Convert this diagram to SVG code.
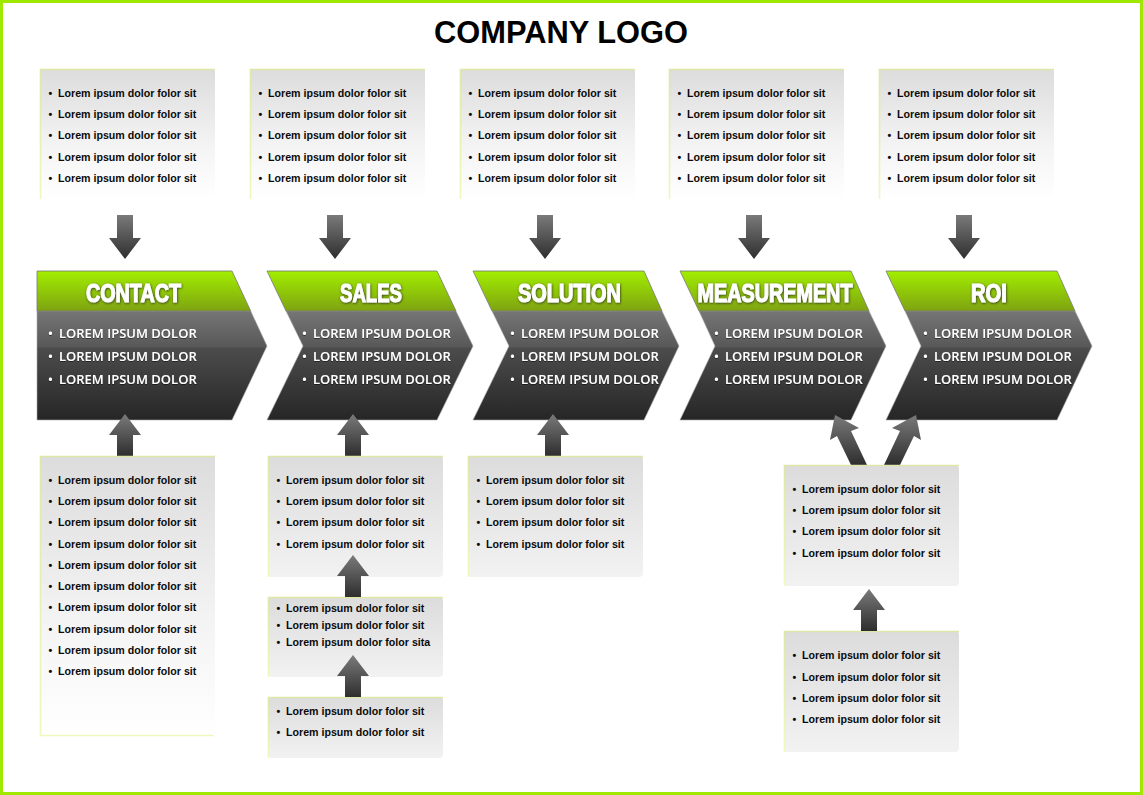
<svg xmlns="http://www.w3.org/2000/svg" width="1143" height="795" viewBox="0 0 1143 795">
<style>
.t{font:bold 10.650px "Liberation Sans",Arial,sans-serif;fill:#0a0a0a}
.c{font:13px "Open Sans","DejaVu Sans",sans-serif;font-weight:600;fill:#fff;filter:url(#ts)}
.h{font:bold 25px "Liberation Sans",Arial,sans-serif;fill:#fff;stroke:#fff;stroke-width:1.1;text-anchor:middle;filter:url(#hs)}
.ti{font:bold 30.800px "Liberation Sans",Arial,sans-serif;fill:#000;text-anchor:middle}
.body{fill:url(#dk);stroke:#aaa;stroke-width:.6}
.band{fill:url(#gr);stroke:#777;stroke-width:.8}
.p1{fill:url(#pw)}
.p2{fill:url(#pg)}
.edge{fill:none;stroke:url(#ed);stroke-width:1.6}
.arw{fill:url(#ar)}
</style>
<defs>
<linearGradient id="dk" x1="0" y1="0" x2="0" y2="1"><stop offset="0" stop-color="#767676"/><stop offset=".33" stop-color="#585858"/><stop offset=".34" stop-color="#4c4c4c"/><stop offset="1" stop-color="#262626"/></linearGradient>
<linearGradient id="gr" x1="0" y1="0" x2="0" y2="1"><stop offset="0" stop-color="#a2ee00"/><stop offset="1" stop-color="#7ea312"/></linearGradient>
<linearGradient id="pw" x1="0" y1="0" x2="0" y2="1"><stop offset="0" stop-color="#dcdcdc"/><stop offset=".6" stop-color="#f4f4f4"/><stop offset="1" stop-color="#fff"/></linearGradient>
<linearGradient id="pg" x1="0" y1="0" x2="0" y2="1"><stop offset="0" stop-color="#dcdcdc"/><stop offset="1" stop-color="#f2f2f2"/></linearGradient>
<linearGradient id="ed" x1="0" y1="0" x2="0" y2="1"><stop offset="0" stop-color="#dfe6a8"/><stop offset="1" stop-color="#f0f8c0"/></linearGradient>
<linearGradient id="ar" x1="0" y1="0" x2="0" y2="1"><stop offset="0" stop-color="#7a7a7a"/><stop offset="1" stop-color="#2e2e2e"/></linearGradient>
<filter id="ts" x="-5%" y="-30%" width="110%" height="160%"><feDropShadow dx="0" dy="0.6" stdDeviation="0.5" flood-color="#000" flood-opacity=".8"/></filter>
<filter id="hs" x="-10%" y="-20%" width="120%" height="140%"><feDropShadow dx="0.5" dy="0.8" stdDeviation="1" flood-color="#222" flood-opacity=".9"/></filter>
</defs>
<rect width="1143" height="795" fill="#fff"/>
<rect x="1.500" y="1.500" width="1140" height="792" fill="none" stroke="#9fe800" stroke-width="3"/>
<text class="ti" x="561" y="43">COMPANY LOGO</text>

<g id="chevron-contact"><path class="body" d="M37 311H250.700L267 346 232 420H37z"/><path class="band" d="M37 271H232L250.700 311H37z"/><text class="h" x="133.500" y="301.500" textLength="95" lengthAdjust="spacingAndGlyphs">CONTACT</text>
<text class="c" y="337.500"><tspan x="48">•</tspan><tspan x="59">LOREM IPSUM DOLOR</tspan></text><text class="c" y="360.500"><tspan x="48">•</tspan><tspan x="59">LOREM IPSUM DOLOR</tspan></text><text class="c" y="383.500"><tspan x="48">•</tspan><tspan x="59">LOREM IPSUM DOLOR</tspan></text></g>
<g id="chevron-sales"><path class="body" d="M286 311H456L473 346 437 420H267L303 346z"/><path class="band" d="M267 271H437L456 311H286z"/><text class="h" x="371" y="301.500" textLength="62" lengthAdjust="spacingAndGlyphs">SALES</text>
<text class="c" y="337.500"><tspan x="302">•</tspan><tspan x="313">LOREM IPSUM DOLOR</tspan></text><text class="c" y="360.500"><tspan x="302">•</tspan><tspan x="313">LOREM IPSUM DOLOR</tspan></text><text class="c" y="383.500"><tspan x="302">•</tspan><tspan x="313">LOREM IPSUM DOLOR</tspan></text></g>
<g id="chevron-solution"><path class="body" d="M492 311H662L679 346 644 420H473L509 346z"/><path class="band" d="M473 271H644L662 311H492z"/><text class="h" x="569.500" y="301.500" textLength="103" lengthAdjust="spacingAndGlyphs">SOLUTION</text>
<text class="c" y="337.500"><tspan x="510">•</tspan><tspan x="521">LOREM IPSUM DOLOR</tspan></text><text class="c" y="360.500"><tspan x="510">•</tspan><tspan x="521">LOREM IPSUM DOLOR</tspan></text><text class="c" y="383.500"><tspan x="510">•</tspan><tspan x="521">LOREM IPSUM DOLOR</tspan></text></g>
<g id="chevron-measurement"><path class="body" d="M699 311H869L886 346 851 420H680L715 346z"/><path class="band" d="M680 271H851L869 311H699z"/><text class="h" x="775" y="301.500" textLength="155" lengthAdjust="spacingAndGlyphs">MEASUREMENT</text>
<text class="c" y="337.500"><tspan x="714">•</tspan><tspan x="725">LOREM IPSUM DOLOR</tspan></text><text class="c" y="360.500"><tspan x="714">•</tspan><tspan x="725">LOREM IPSUM DOLOR</tspan></text><text class="c" y="383.500"><tspan x="714">•</tspan><tspan x="725">LOREM IPSUM DOLOR</tspan></text></g>
<g id="chevron-roi"><path class="body" d="M905 311H1075L1092 346 1057 420H886L921 346z"/><path class="band" d="M886 271H1057L1075 311H905z"/><text class="h" x="989" y="301.500" textLength="36" lengthAdjust="spacingAndGlyphs">ROI</text>
<text class="c" y="337.500"><tspan x="923">•</tspan><tspan x="934">LOREM IPSUM DOLOR</tspan></text><text class="c" y="360.500"><tspan x="923">•</tspan><tspan x="934">LOREM IPSUM DOLOR</tspan></text><text class="c" y="383.500"><tspan x="923">•</tspan><tspan x="934">LOREM IPSUM DOLOR</tspan></text></g>

<g id="connectors">
<path class="arw" d="M117 215h16v23h8l-16 21-16-21h8z"/>
<path class="arw" d="M327 215h16v23h8l-16 21-16-21h8z"/>
<path class="arw" d="M537 215h16v23h8l-16 21-16-21h8z"/>
<path class="arw" d="M746 215h16v23h8l-16 21-16-21h8z"/>
<path class="arw" d="M956 215h16v23h8l-16 21-16-21h8z"/>
<path class="arw" d="M117 456v-21h-8l16-21 16 21h-8v21z"/>
<path class="arw" d="M345 456v-21h-8l16-21 16 21h-8v21z"/>
<path class="arw" d="M545 456v-21h-8l16-21 16 21h-8v21z"/>
<path class="arw" d="M851 465L837 436 830 440 835 415 859 428 851 431 867 465z"/>
<path class="arw" d="M900 465L914 436 921 440 916 415 892 428 900 431 884 465z"/>
</g>

<g id="top-1"><rect class="p1" x="40" y="69" width="175" height="130" rx="2"/><path class="edge" d="M40.500 199V69.500H215"/><text class="t" y="97"><tspan x="48.500">•</tspan><tspan x="58">Lorem ipsum dolor folor sit</tspan></text><text class="t" y="118"><tspan x="48.500">•</tspan><tspan x="58">Lorem ipsum dolor folor sit</tspan></text><text class="t" y="139"><tspan x="48.500">•</tspan><tspan x="58">Lorem ipsum dolor folor sit</tspan></text><text class="t" y="161"><tspan x="48.500">•</tspan><tspan x="58">Lorem ipsum dolor folor sit</tspan></text><text class="t" y="182"><tspan x="48.500">•</tspan><tspan x="58">Lorem ipsum dolor folor sit</tspan></text></g>
<g id="top-2"><rect class="p1" x="250" y="69" width="175" height="130" rx="2"/><path class="edge" d="M250.500 199V69.500H425"/><text class="t" y="97"><tspan x="258.500">•</tspan><tspan x="268">Lorem ipsum dolor folor sit</tspan></text><text class="t" y="118"><tspan x="258.500">•</tspan><tspan x="268">Lorem ipsum dolor folor sit</tspan></text><text class="t" y="139"><tspan x="258.500">•</tspan><tspan x="268">Lorem ipsum dolor folor sit</tspan></text><text class="t" y="161"><tspan x="258.500">•</tspan><tspan x="268">Lorem ipsum dolor folor sit</tspan></text><text class="t" y="182"><tspan x="258.500">•</tspan><tspan x="268">Lorem ipsum dolor folor sit</tspan></text></g>
<g id="top-3"><rect class="p1" x="460" y="69" width="175" height="130" rx="2"/><path class="edge" d="M460.500 199V69.500H635"/><text class="t" y="97"><tspan x="468.500">•</tspan><tspan x="478">Lorem ipsum dolor folor sit</tspan></text><text class="t" y="118"><tspan x="468.500">•</tspan><tspan x="478">Lorem ipsum dolor folor sit</tspan></text><text class="t" y="139"><tspan x="468.500">•</tspan><tspan x="478">Lorem ipsum dolor folor sit</tspan></text><text class="t" y="161"><tspan x="468.500">•</tspan><tspan x="478">Lorem ipsum dolor folor sit</tspan></text><text class="t" y="182"><tspan x="468.500">•</tspan><tspan x="478">Lorem ipsum dolor folor sit</tspan></text></g>
<g id="top-4"><rect class="p1" x="669" y="69" width="175" height="130" rx="2"/><path class="edge" d="M669.500 199V69.500H844"/><text class="t" y="97"><tspan x="677.500">•</tspan><tspan x="687">Lorem ipsum dolor folor sit</tspan></text><text class="t" y="118"><tspan x="677.500">•</tspan><tspan x="687">Lorem ipsum dolor folor sit</tspan></text><text class="t" y="139"><tspan x="677.500">•</tspan><tspan x="687">Lorem ipsum dolor folor sit</tspan></text><text class="t" y="161"><tspan x="677.500">•</tspan><tspan x="687">Lorem ipsum dolor folor sit</tspan></text><text class="t" y="182"><tspan x="677.500">•</tspan><tspan x="687">Lorem ipsum dolor folor sit</tspan></text></g>
<g id="top-5"><rect class="p1" x="879" y="69" width="175" height="130" rx="2"/><path class="edge" d="M879.500 199V69.500H1054"/><text class="t" y="97"><tspan x="887.500">•</tspan><tspan x="897">Lorem ipsum dolor folor sit</tspan></text><text class="t" y="118"><tspan x="887.500">•</tspan><tspan x="897">Lorem ipsum dolor folor sit</tspan></text><text class="t" y="139"><tspan x="887.500">•</tspan><tspan x="897">Lorem ipsum dolor folor sit</tspan></text><text class="t" y="161"><tspan x="887.500">•</tspan><tspan x="897">Lorem ipsum dolor folor sit</tspan></text><text class="t" y="182"><tspan x="887.500">•</tspan><tspan x="897">Lorem ipsum dolor folor sit</tspan></text></g>

<g id="contact-detail"><rect class="p1" x="40" y="456" width="175" height="280" rx="2"/><path class="edge" d="M214 735.500H40.500V456.500H215"/><text class="t" y="484"><tspan x="48.500">•</tspan><tspan x="58">Lorem ipsum dolor folor sit</tspan></text><text class="t" y="505"><tspan x="48.500">•</tspan><tspan x="58">Lorem ipsum dolor folor sit</tspan></text><text class="t" y="526"><tspan x="48.500">•</tspan><tspan x="58">Lorem ipsum dolor folor sit</tspan></text><text class="t" y="548"><tspan x="48.500">•</tspan><tspan x="58">Lorem ipsum dolor folor sit</tspan></text><text class="t" y="569"><tspan x="48.500">•</tspan><tspan x="58">Lorem ipsum dolor folor sit</tspan></text><text class="t" y="590"><tspan x="48.500">•</tspan><tspan x="58">Lorem ipsum dolor folor sit</tspan></text><text class="t" y="611"><tspan x="48.500">•</tspan><tspan x="58">Lorem ipsum dolor folor sit</tspan></text><text class="t" y="633"><tspan x="48.500">•</tspan><tspan x="58">Lorem ipsum dolor folor sit</tspan></text><text class="t" y="654"><tspan x="48.500">•</tspan><tspan x="58">Lorem ipsum dolor folor sit</tspan></text><text class="t" y="675"><tspan x="48.500">•</tspan><tspan x="58">Lorem ipsum dolor folor sit</tspan></text></g>
<g id="sales-detail-1"><rect class="p2" x="268" y="456" width="175" height="121" rx="4"/><path class="edge" d="M268.500 577V456.500H443"/><text class="t" y="484"><tspan x="276.500">•</tspan><tspan x="286">Lorem ipsum dolor folor sit</tspan></text><text class="t" y="505"><tspan x="276.500">•</tspan><tspan x="286">Lorem ipsum dolor folor sit</tspan></text><text class="t" y="526"><tspan x="276.500">•</tspan><tspan x="286">Lorem ipsum dolor folor sit</tspan></text><text class="t" y="548"><tspan x="276.500">•</tspan><tspan x="286">Lorem ipsum dolor folor sit</tspan></text></g>
<g id="sales-detail-2"><rect class="p2" x="268" y="597" width="175" height="80" rx="4"/><path class="edge" d="M268.500 677V597.500H443"/><text class="t" y="612"><tspan x="276.500">•</tspan><tspan x="286">Lorem ipsum dolor folor sit</tspan></text><text class="t" y="629"><tspan x="276.500">•</tspan><tspan x="286">Lorem ipsum dolor folor sit</tspan></text><text class="t" y="646"><tspan x="276.500">•</tspan><tspan x="286">Lorem ipsum dolor folor sita</tspan></text></g>
<g id="sales-detail-3"><rect class="p2" x="268" y="697" width="175" height="61" rx="4"/><path class="edge" d="M268.500 758V697.500H443"/><text class="t" y="715"><tspan x="276.500">•</tspan><tspan x="286">Lorem ipsum dolor folor sit</tspan></text><text class="t" y="736"><tspan x="276.500">•</tspan><tspan x="286">Lorem ipsum dolor folor sit</tspan></text></g>
<g id="solution-detail"><rect class="p2" x="468" y="456" width="175" height="121" rx="4"/><path class="edge" d="M468.500 577V456.500H643"/><text class="t" y="484"><tspan x="476.500">•</tspan><tspan x="486">Lorem ipsum dolor folor sit</tspan></text><text class="t" y="505"><tspan x="476.500">•</tspan><tspan x="486">Lorem ipsum dolor folor sit</tspan></text><text class="t" y="526"><tspan x="476.500">•</tspan><tspan x="486">Lorem ipsum dolor folor sit</tspan></text><text class="t" y="548"><tspan x="476.500">•</tspan><tspan x="486">Lorem ipsum dolor folor sit</tspan></text></g>
<g id="measurement-detail-1"><rect class="p2" x="784" y="465" width="175" height="121" rx="4"/><path class="edge" d="M784.500 586V465.500H959"/><text class="t" y="493"><tspan x="792.500">•</tspan><tspan x="802">Lorem ipsum dolor folor sit</tspan></text><text class="t" y="514"><tspan x="792.500">•</tspan><tspan x="802">Lorem ipsum dolor folor sit</tspan></text><text class="t" y="535"><tspan x="792.500">•</tspan><tspan x="802">Lorem ipsum dolor folor sit</tspan></text><text class="t" y="557"><tspan x="792.500">•</tspan><tspan x="802">Lorem ipsum dolor folor sit</tspan></text></g>
<g id="measurement-detail-2"><rect class="p2" x="784" y="631" width="175" height="121" rx="4"/><path class="edge" d="M784.500 752V631.500H959"/><text class="t" y="659"><tspan x="792.500">•</tspan><tspan x="802">Lorem ipsum dolor folor sit</tspan></text><text class="t" y="681"><tspan x="792.500">•</tspan><tspan x="802">Lorem ipsum dolor folor sit</tspan></text><text class="t" y="702"><tspan x="792.500">•</tspan><tspan x="802">Lorem ipsum dolor folor sit</tspan></text><text class="t" y="723"><tspan x="792.500">•</tspan><tspan x="802">Lorem ipsum dolor folor sit</tspan></text></g>

<g id="connectors-over">
<path class="arw" d="M345 597v-21h-8l16-21 16 21h-8v21z"/>
<path class="arw" d="M345 697v-21h-8l16-21 16 21h-8v21z"/>
<path class="arw" d="M861 631v-21h-8l16-21 16 21h-8v21z"/>
</g>
</svg>
